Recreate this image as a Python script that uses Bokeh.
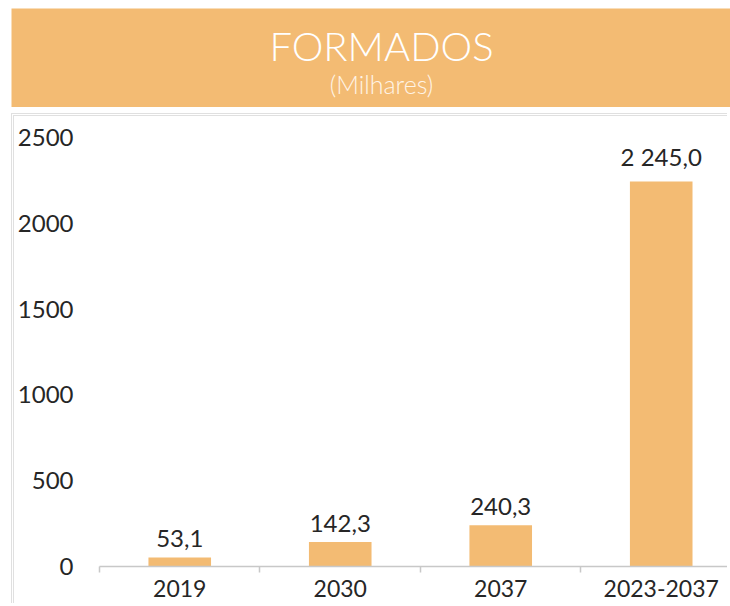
from bokeh.plotting import figure
from bokeh.models import Range1d, FixedTicker, LinearAxis, ColumnDataSource
from bokeh.layouts import column
from bokeh.core.properties import value
from bokeh.embed import file_html
from bokeh.resources import INLINE

# ---- data ----
categories = ["2019", "2030", "2037", "2023-2037"]
values = [53.1, 142.3, 240.3, 2245.0]
value_labels = ["53,1", "142,3", "240,3", "2 245,0"]
y_ticks = [0, 500, 1000, 1500, 2000, 2500]
title_text = "FORMADOS"
subtitle_text = "(Milhares)"

ORANGE = "#F3BB73"
TXT = "#262626"
FONT = "Lato"

# ---- header ----
hdr = figure(width=730, height=107, output_backend="svg", toolbar_location=None,
             x_range=Range1d(11, 730), y_range=Range1d(107, 8),
             min_border_left=11, min_border_right=0, min_border_top=8, min_border_bottom=0)
hdr.frame_align = False
hdr.axis.visible = False
hdr.grid.visible = False
hdr.outline_line_color = None
hdr.background_fill_color = ORANGE
hdr.border_fill_color = "white"
hdr.text(x=[381], y=[45], text=[title_text], text_font=value("Lato Light"),
         text_font_size="40px", text_color="white", text_align="center",
         text_baseline="middle")
hdr.text(x=[381], y=[83], text=[subtitle_text], text_font=value("Lato Light"),
         text_font_size="25px", text_color="#FFF4E6", text_align="center",
         text_baseline="middle")

# ---- chart ----
xs = [i + 0.5 for i in range(len(categories))]
src = ColumnDataSource(dict(x=xs, top=values, lab=value_labels))

p = figure(width=716, height=490, output_backend="svg", toolbar_location=None,
           x_range=Range1d(0, 633 / 161.0), y_range=Range1d(0, 2600),
           min_border_left=83, min_border_right=0, min_border_top=4, min_border_bottom=40,
           x_axis_type=None, y_axis_type=None)
p.frame_align = False
p.styles = {"margin-left": "11px", "border": "3px double #e0e0e0",
            "border-bottom": "none", "border-right": "none"}
p.grid.visible = False
p.outline_line_color = None
p.background_fill_color = "white"
p.border_fill_color = "white"

p.vbar(x="x", top="top", bottom=0, width=0.39, source=src,
       fill_color=ORANGE, line_color=None)
p.text(x="x", y="top", text="lab", source=src, y_offset=-10,
       text_font=value(FONT), text_font_size="24px", text_color=TXT,
       text_align="center", text_baseline="bottom")

yax = LinearAxis(ticker=FixedTicker(ticks=y_ticks))
yax.axis_line_color = None
yax.major_tick_line_color = None
yax.minor_tick_line_color = None
yax.major_label_standoff = 20
yax.major_label_text_font = FONT
yax.major_label_text_font_size = "24px"
yax.major_label_text_color = TXT
p.add_layout(yax, "left")

xax = LinearAxis(ticker=FixedTicker(ticks=xs, minor_ticks=list(range(len(categories) + 1))))
xax.major_label_overrides = {x: c for x, c in zip(xs, categories)}
xax.axis_line_color = "#C8C8C8"
xax.axis_line_width = 1.5
xax.major_tick_line_color = None
xax.minor_tick_line_color = "#C8C8C8"
xax.minor_tick_line_width = 1.5
xax.minor_tick_out = 6
xax.minor_tick_in = 0
xax.major_label_standoff = 7
xax.major_label_text_font = FONT
xax.major_label_text_font_size = "23px"
xax.major_label_text_color = TXT
p.add_layout(xax, "below")

layout = column(hdr, p, spacing=6)
open("out.html", "w").write(file_html(layout, INLINE))
